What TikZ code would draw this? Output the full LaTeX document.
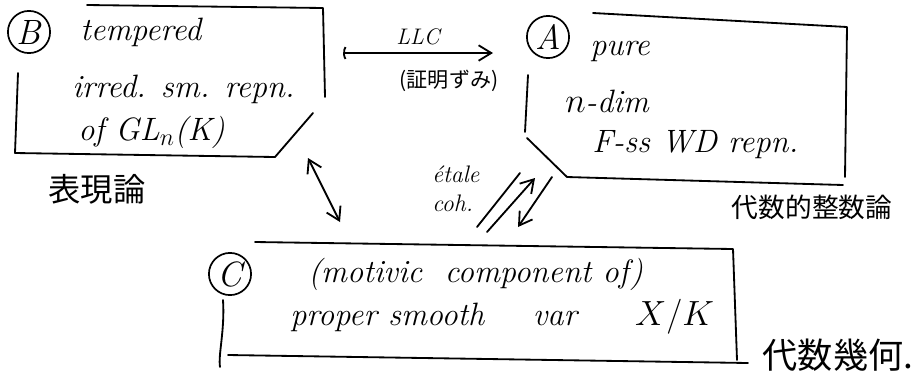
\documentclass[tikz,border=0pt]{standalone}
\usepackage{fontspec}
\newfontfamily\jpfont{Noto Sans CJK JP}
\usetikzlibrary{arrows.meta}

\begin{document}
\begin{tikzpicture}[x=0.025cm,y=-0.025cm,
		hand/.style={line width=1.3pt,line cap=round,line join=round},
		hw/.style={font=\fontsize{23}{26}\selectfont\itshape,anchor=base west,inner sep=0pt},
		small/.style={font=\fontsize{17}{18}\selectfont\itshape,anchor=base west,inner sep=0pt},
		jp/.style={font=\fontsize{#1}{#1}\selectfont\jpfont,inner sep=0pt},
		tag/.style={draw,circle,line width=1.2pt,minimum size=30pt,inner sep=0pt,font=\fontsize{25}{25}\selectfont\itshape},
		>={Straight Barb[length=9pt,width=11pt]}]
	\useasboundingbox(0,0)rectangle(920,384);
	\draw[hand](87,5)--(323,8)--(325,97);
	\draw[hand](313,113)--(275,157)--(15,153)--(18,73);
	\draw[hand](593,13)--(847,27)--(845,177);
	\draw[hand](528,75)--(525,132);
	\draw[hand](527,138)--(567,177)--(843,185);
	\draw[hand](255,242)--(733,249)--(737,360);
	\draw[hand](223,300)..controls(225,330)and(218,355)..(220,367);
	\draw[hand](228,355)--(748,363);
	\node[tag](tagB)at(29,32){B};
	\node[hw](repB1)at(80,40){tempered};
	\node[hw](repB2)at(72,97){irred. sm. repn.};
	\node[hw](repB3)at(78,140){of GL\(_n\)(K)};
	\node[jp=23](fieldB)at(97,189){表現論};
	\node[tag](tagA)at(548,37){A};
	\node[hw](galA1)at(590,55){pure};
	\node[hw](galA2)at(565,112){\(n\)-dim};
	\node[hw](galA3)at(592,152){F-ss WD repn.};
	\node[jp=19](fieldA)at(812,207){代数的整数論};
	\node[tag](tagC)at(230,274){C};
	\node[hw](motC1)at(308,282){(motivic\ \ component of)};
	\node[hw](motC2)at(290,325){proper smooth\hspace{1.5em}var\hspace{1.8em}\(X/K\)};
	\node[jp=25](fieldC)at(838,355){代数幾何.};
	\coordinate(llcL)at(343,53);
	\coordinate(llcR)at(493,53);
	\draw[hand,{Parenthesis[length=3pt,width=11pt]}->](llcL)--(llcR);
	\node[font=\fontsize{16}{16}\selectfont\itshape,inner sep=0pt](llc)at(418,37){LLC};
	\node[jp=15](proved)at(449,81){(証明ずみ)};
	\coordinate(bcB)at(308,158);
	\coordinate(bcC)at(340,222);
	\draw[hand,<->](bcB)--(bcC);
	\node[small](etale)at(432,182){étale};
	\node[small](coh)at(432,211){coh.};
	\coordinate(ac1C)at(477,227);
	\coordinate(ac1A)at(520,173);
	\coordinate(ac2C)at(487,232);
	\coordinate(ac2A)at(535,178);
	\coordinate(ac3A)at(552,177);
	\coordinate(ac3C)at(518,227);
	\draw[hand](ac1C)--(ac1A);
	\draw[hand,->](ac2C)--(ac2A);
	\draw[hand,->](ac3A)--(ac3C);
\end{tikzpicture}
\end{document}
